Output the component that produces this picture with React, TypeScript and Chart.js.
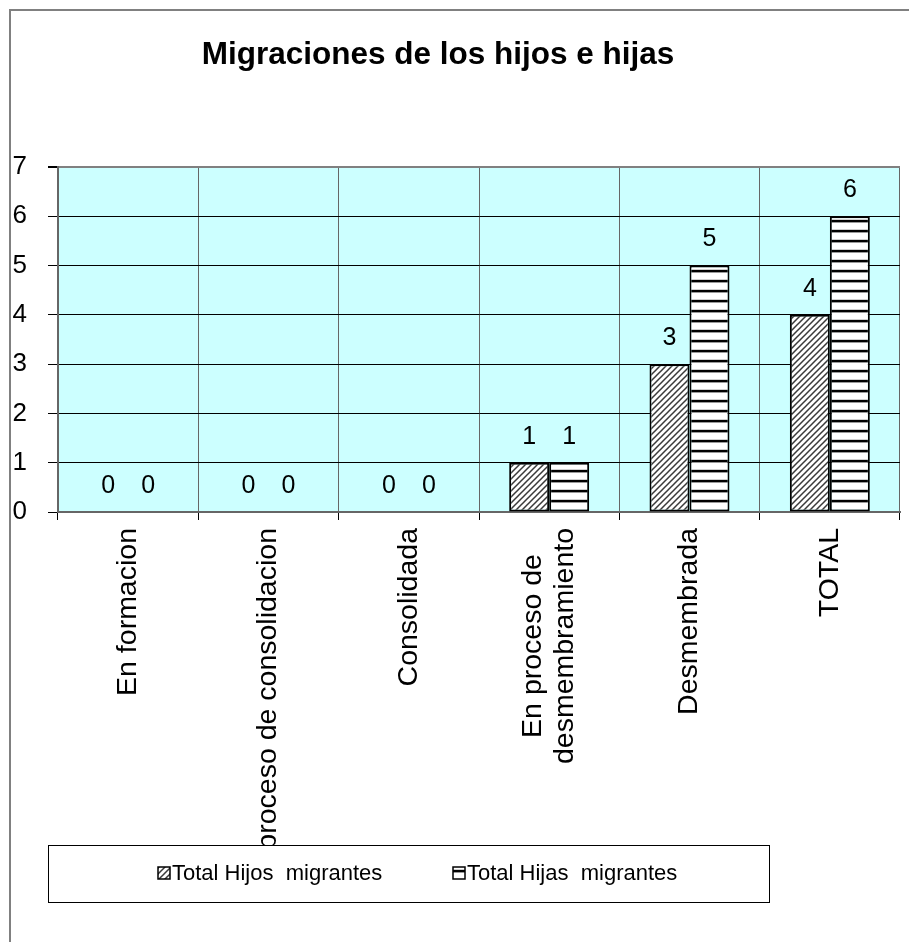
import React, { useEffect, useRef } from "react";
import { Chart, registerables } from "chart.js";

Chart.register(...registerables);

const TITLE = "Migraciones de los hijos e hijas";
const categories: (string | string[])[] = [
  "En formacion",
  "En proceso de consolidacion",
  "Consolidada",
  ["En proceso de", "desmembramiento"],
  "Desmembrada",
  "TOTAL",
];
const seriesNames = ["Total Hijos  migrantes", "Total Hijas  migrantes"];
const hijos = [0, 0, 0, 1, 3, 4];
const hijas = [0, 0, 0, 1, 5, 6];
const yTicks = [0, 1, 2, 3, 4, 5, 6, 7];

const FONT = 'Arial, "Liberation Sans", sans-serif';

function makeHatch(): CanvasPattern | string {
  const c = document.createElement("canvas");
  c.width = 6;
  c.height = 6;
  const g = c.getContext("2d");
  if (!g) return "#999";
  g.fillStyle = "#ffffff";
  g.fillRect(0, 0, 6, 6);
  g.strokeStyle = "#3a3a3a";
  g.lineWidth = 1.5;
  g.beginPath();
  g.moveTo(-1, 7);
  g.lineTo(7, -1);
  g.moveTo(-4, 4);
  g.lineTo(4, -4);
  g.moveTo(2, 10);
  g.lineTo(10, 2);
  g.stroke();
  return g.createPattern(c, "repeat") || "#999";
}

function makeStripes(): CanvasPattern | string {
  const c = document.createElement("canvas");
  c.width = 10;
  c.height = 10;
  const g = c.getContext("2d");
  if (!g) return "#ccc";
  g.fillStyle = "#ffffff";
  g.fillRect(0, 0, 10, 10);
  g.fillStyle = "#000000";
  g.fillRect(0, 0, 10, 2);
  g.fillStyle = "#9a9a9a";
  g.fillRect(0, 2, 10, 1);
  g.fillStyle = "#cfcfcf";
  g.fillRect(0, 9, 10, 1);
  return g.createPattern(c, "repeat") || "#ccc";
}

export default function App() {
  const ref = useRef<HTMLCanvasElement | null>(null);

  useEffect(() => {
    if (!ref.current) return;
    Chart.defaults.font.family = FONT;
    const hatch = makeHatch();
    const stripes = makeStripes();
    const fills = [hatch, stripes];

    const decor = {
      id: "decor",
      beforeDraw(chart: any) {
        const { ctx, chartArea } = chart;
        ctx.save();
        ctx.fillStyle = "#ffffff";
        ctx.fillRect(0, 0, chart.width, chart.height);
        ctx.fillStyle = "#ccffff";
        ctx.fillRect(
          chartArea.left,
          chartArea.top,
          chartArea.right - chartArea.left,
          chartArea.bottom - chartArea.top
        );
        // outer frame
        ctx.strokeStyle = "#808080";
        ctx.lineWidth = 2;
        ctx.beginPath();
        ctx.moveTo(10, chart.height);
        ctx.lineTo(10, 10);
        ctx.lineTo(chart.width, 10);
        ctx.stroke();
        // title
        ctx.fillStyle = "#000";
        ctx.font = `bold 31.5px ${FONT}`;
        ctx.textAlign = "center";
        ctx.textBaseline = "middle";
        ctx.fillText(TITLE, 438, 55);
        ctx.restore();
      },
      afterDraw(chart: any) {
        const { ctx } = chart;
        const xs = chart.scales.x;
        ctx.save();
        // category labels (rotated)
        ctx.fillStyle = "#000";
        ctx.font = `28.5px ${FONT}`;
        ctx.textAlign = "center";
        ctx.textBaseline = "middle";
        const lineH = 32;
        categories.forEach((lab, i) => {
          const lines = Array.isArray(lab) ? lab : [lab];
          const maxW = Math.max(...lines.map((l) => ctx.measureText(l).width));
          const x = xs.getPixelForValue(i);
          ctx.save();
          ctx.translate(x, 528);
          ctx.rotate(-Math.PI / 2);
          lines.forEach((l, k) => {
            const off = (k - (lines.length - 1) / 2) * lineH;
            ctx.fillText(l, -maxW / 2, off);
          });
          ctx.restore();
        });
        // legend box
        const lx = 48, ly = 845, lw = 721, lh = 57;
        ctx.fillStyle = "#ffffff";
        ctx.fillRect(lx, ly, lw, lh);
        ctx.strokeStyle = "#000";
        ctx.lineWidth = 1;
        ctx.strokeRect(lx + 0.5, ly + 0.5, lw, lh);
        const mx = [158, 453];
        ctx.font = `22px ${FONT}`;
        ctx.textAlign = "left";
        ctx.textBaseline = "middle";
        seriesNames.forEach((name, i) => {
          ctx.fillStyle = fills[i];
          ctx.fillRect(mx[i], 867, 12, 12);
          ctx.strokeStyle = "#000";
          ctx.lineWidth = 1.5;
          ctx.strokeRect(mx[i], 867, 12, 12);
          ctx.fillStyle = "#000";
          ctx.fillText(name, mx[i] + 14, 874);
        });
        ctx.restore();
      },
      afterDatasetsDraw(chart: any) {
        const { ctx } = chart;
        ctx.save();
        ctx.fillStyle = "#000";
        ctx.font = `25px ${FONT}`;
        ctx.textAlign = "center";
        ctx.textBaseline = "middle";
        chart.data.datasets.forEach((ds: any, di: number) => {
          const meta = chart.getDatasetMeta(di);
          meta.data.forEach((el: any, j: number) => {
            ctx.fillText(String(ds.data[j]), el.x, el.y - 26);
          });
        });
        ctx.restore();
      },
    };

    const chart = new Chart(ref.current, {
      type: "bar",
      data: {
        labels: categories as any,
        datasets: [
          {
            label: seriesNames[0],
            data: hijos,
            backgroundColor: hatch as any,
            borderColor: "#000",
            borderWidth: (c: any) => (c.raw === 0 ? 0 : 2),
            borderSkipped: false,
          },
          {
            label: seriesNames[1],
            data: hijas,
            backgroundColor: stripes as any,
            borderColor: "#000",
            borderWidth: (c: any) => (c.raw === 0 ? 0 : 2),
            borderSkipped: false,
          },
        ],
      },
      options: {
        responsive: false,
        animation: false,
        layout: { padding: { top: 167, right: 9, bottom: 0, left: 0 } },
        datasets: { bar: { categoryPercentage: 0.57, barPercentage: 1 } },
        plugins: {
          legend: { display: false },
          title: { display: false },
          tooltip: { enabled: false },
        },
        scales: {
          x: {
            ticks: { display: false },
            grid: {
              offset: true,
              color: "#666",
              tickColor: "#000",
              tickLength: 8,
              lineWidth: 1,
            },
            border: { display: true, color: "#666", width: 2 },
            afterFit: (s: any) => {
              s.height = 430;
            },
          },
          y: {
            min: 0,
            max: 7,
            afterBuildTicks: (s: any) => {
              s.ticks = yTicks.map((v) => ({ value: v }));
            },
            ticks: {
              color: "#000",
              font: { size: 26, family: FONT },
              padding: 21,
            },
            grid: {
              color: (c: any) => (c.tick && c.tick.value === 7 ? "#808080" : "#000"),
              lineWidth: (c: any) => (c.tick && c.tick.value === 7 ? 2 : 1),
              tickColor: "#000",
              tickLength: 10,
            },
            border: { display: true, color: "#666", width: 2 },
            afterFit: (s: any) => {
              s.width = 58;
            },
          },
        },
      },
      plugins: [decor],
    });
    return () => chart.destroy();
  }, []);

  return (
    <div style={{ position: "fixed", left: 0, top: 0, width: 909, height: 942 }}>
      <canvas ref={ref} width={909} height={942} style={{ display: "block" }} />
    </div>
  );
}
